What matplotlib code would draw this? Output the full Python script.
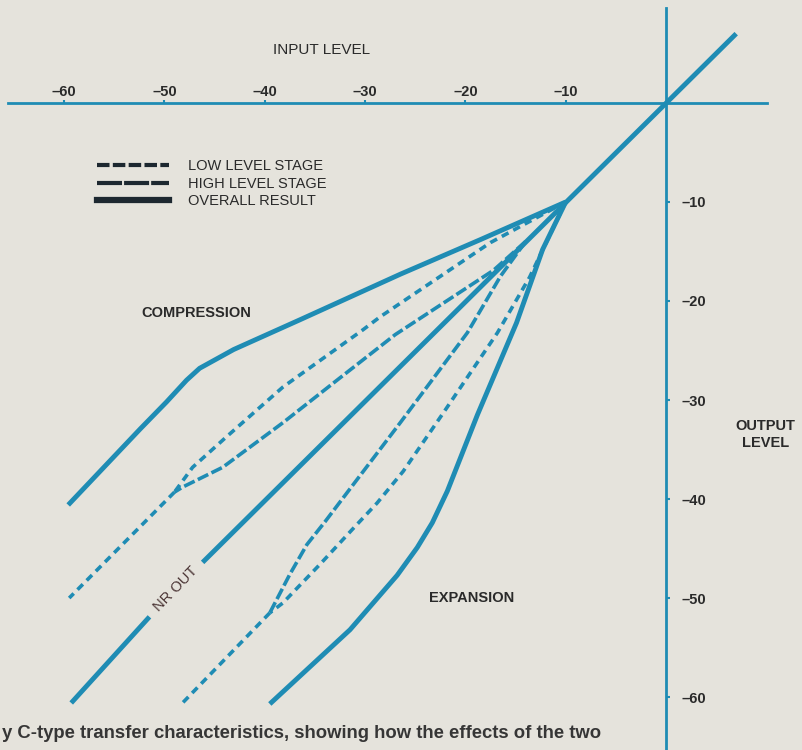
import numpy as np
import matplotlib
matplotlib.use("Agg")
import matplotlib.pyplot as plt
from matplotlib.lines import Line2D

plt.rcParams['font.family'] = ['Liberation Sans', 'DejaVu Sans']

# Input / output levels (dB)

# unity line (NR out), split where the label sits
nr_out_in = [7.0, -46.2, np.nan, -51.5, -59.3]
nr_out_out = [7.0, -46.4, np.nan, -51.9, -60.6]

# overall result, compression (encode)
comp_in = [-10.0, -18.5, -26.5, -36.5, -43.1, -46.5, -47.8, -49.8, -52.4, -59.6]
comp_out = [-10.0, -13.8, -17.3, -21.9, -24.9, -26.8, -28.0, -30.2, -32.9, -40.6]

# overall result, expansion (decode)
exp_in = [-10.0, -12.3, -14.9, -18.8, -21.8, -23.3, -24.8, -26.8, -31.5, -39.5]
exp_out = [-10.0, -14.8, -22.2, -31.5, -39.2, -42.4, -44.9, -47.7, -53.2, -60.7]

# compression side stages
comp_a_in = [-10.0, -17.5, -28.5, -30.2, -38.2, -43.8, -47.2, -49.0]
comp_a_out = [-10.0, -14.1, -21.6, -22.9, -28.7, -33.7, -36.8, -39.3]
comp_b_in = [-14.0, -17.2, -27.0, -32.8, -38.2, -44.2, -48.2, -49.0]
comp_b_out = [-14.0, -16.9, -23.4, -28.0, -32.3, -36.8, -38.8, -39.3]
comp_tail_in = [-49.0, -59.5]
comp_tail_out = [-39.3, -50.0]

# expansion side stages
exp_a_in = [-10.0, -13.6, -16.8, -22.2, -26.2, -28.8, -31.3, -34.5, -38.2, -39.5]
exp_a_out = [-10.0, -17.6, -23.2, -31.3, -37.2, -40.4, -43.1, -46.6, -50.5, -51.5]
exp_b_in = [-14.0, -16.5, -19.8, -26.5, -31.0, -34.0, -35.8, -37.5, -39.5]
exp_b_out = [-14.0, -17.5, -23.2, -32.3, -38.3, -42.3, -44.6, -47.6, -51.5]
exp_tail_in = [-39.5, -48.3]
exp_tail_out = [-51.5, -60.7]

x_ticks = [-60, -50, -40, -30, -20, -10]
y_ticks = [-10, -20, -30, -40, -50, -60]

line_c = '#1f8cb4'
text_c = '#2a2a2a'
short_dash = (0, (2.1, 1.5))
long_dash = (0, (3.2, 1.0))

fig = plt.figure(figsize=(8.03, 7.5), dpi=100, facecolor='#e5e3dc')
ax = fig.add_axes([0, 0, 1, 1])
ax.set_facecolor('#e5e3dc')
ax.set_xlim(-66.4, 13.66)
ax.set_ylim(-65.35, 10.4)

# axes through the origin
for s in ['left', 'bottom']:
    ax.spines[s].set_visible(False)
ax.spines['top'].set_position(('data', 0))
ax.spines['top'].set_bounds(-65.6, 10.1)
ax.spines['right'].set_position(('data', 0))
ax.spines['right'].set_bounds(-65.4, 9.6)
for s in ['top', 'right']:
    ax.spines[s].set_color(line_c)
    ax.spines[s].set_linewidth(2.0)

ax.xaxis.set_ticks_position('top')
ax.yaxis.set_ticks_position('right')
ax.set_xticks(x_ticks)
ax.set_yticks(y_ticks)
ax.set_xticklabels(['\u2013' + str(abs(v)) for v in x_ticks])
ax.set_yticklabels(['\u2013' + str(abs(v)) for v in y_ticks])
ax.tick_params(axis='x', direction='out', length=2, width=1.5, color=line_c,
               labelsize=10.5, pad=1, labelcolor=text_c)
ax.tick_params(axis='y', direction='out', length=3, width=1.5, color=line_c,
               labelsize=10.5, pad=8, labelcolor=text_c)
for t in ax.get_xticklabels() + ax.get_yticklabels():
    t.set_fontweight('bold')

solid = dict(color=line_c, lw=3.5, solid_capstyle='butt', solid_joinstyle='round')
dash = dict(color=line_c, lw=2.6, dash_capstyle='butt')

ax.plot(nr_out_in, nr_out_out, **solid)
ax.plot(comp_in, comp_out, **solid)
ax.plot(exp_in, exp_out, **solid)

ax.plot(comp_a_in, comp_a_out, ls=short_dash, **dash)
ax.plot(comp_b_in, comp_b_out, ls=long_dash, **dash)
ax.plot(comp_tail_in, comp_tail_out, ls=short_dash, **dash)
ax.plot(exp_a_in, exp_a_out, ls=short_dash, **dash)
ax.plot(exp_b_in, exp_b_out, ls=long_dash, **dash)
ax.plot(exp_tail_in, exp_tail_out, ls=short_dash, **dash)

ax.text(-48.9, -49.1, 'NR OUT', rotation=46, rotation_mode='anchor',
        ha='center', va='center', fontsize=10.5, color='#4a3434')

ax.text(0.401, 0.933, 'INPUT LEVEL', transform=ax.transAxes, ha='center',
        va='center', fontsize=11, color=text_c)
ax.text(0.244, 0.583, 'COMPRESSION', transform=ax.transAxes, ha='center',
        va='center', fontsize=10.5, fontweight='bold', color=text_c)
ax.text(0.587, 0.203, 'EXPANSION', transform=ax.transAxes, ha='center',
        va='center', fontsize=10.5, fontweight='bold', color=text_c)
ax.text(0.953, 0.421, 'OUTPUT\nLEVEL', transform=ax.transAxes, ha='center',
        va='center', fontsize=10.5, fontweight='bold', color=text_c,
        linespacing=1.3)

ax.text(0.002, 0.022, 'y C-type transfer characteristics, showing how the effects of the two',
        transform=ax.transAxes, ha='left', va='center', fontsize=13.3,
        fontweight='bold', color='#363636')

leg_c = '#1d2830'
handles = [
    Line2D([], [], color=leg_c, lw=3.0, ls=(0, (3.0, 0.8))),
    Line2D([], [], color=leg_c, lw=3.0, ls=(0, (6.0, 0.5))),
    Line2D([], [], color=leg_c, lw=4.5),
]
labels = ['LOW LEVEL STAGE', 'HIGH LEVEL STAGE', 'OVERALL RESULT']
leg = ax.legend(handles, labels, loc='upper left', bbox_to_anchor=(0.121, 0.788),
                frameon=False, fontsize=10.5, handlelength=4.9, handletextpad=1.3,
                labelspacing=0.25, borderpad=0, borderaxespad=0)
for t in leg.get_texts():
    t.set_color(text_c)

fig.savefig('out.png', dpi=100, facecolor=fig.get_facecolor())
